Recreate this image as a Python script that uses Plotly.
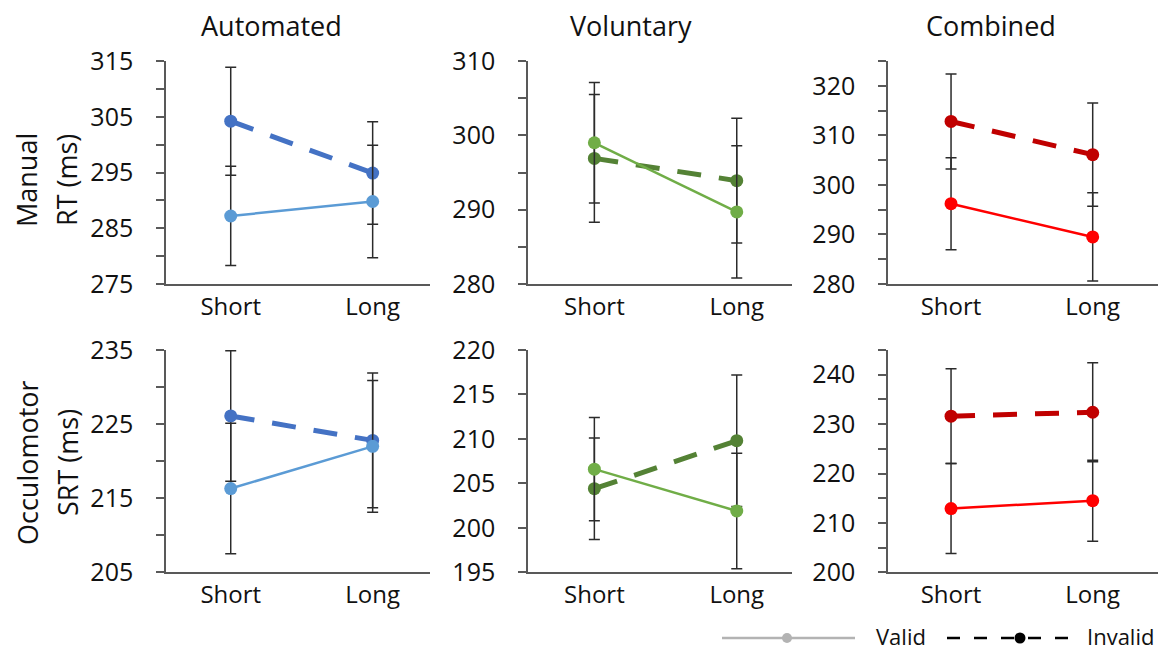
import plotly.graph_objects as go
from plotly.subplots import make_subplots

# ---------------- data ----------------
categories = ["Short", "Long"]
column_titles = ["Automated", "Voluntary", "Combined"]
row_titles = [("Manual", "RT (ms)"), ("Occulomotor", "SRT (ms)")]

# Manual RT (ms)
auto_rt_valid = [287.2, 289.8]
auto_rt_valid_err = [8.9, 10.1]
auto_rt_invalid = [304.2, 294.9]
auto_rt_invalid_err = [9.7, 9.2]

vol_rt_valid = [299.0, 289.7]
vol_rt_valid_err = [8.1, 8.9]
vol_rt_invalid = [296.9, 293.9]
vol_rt_invalid_err = [8.6, 8.4]

comb_rt_valid = [296.2, 289.5]
comb_rt_valid_err = [9.3, 8.9]
comb_rt_invalid = [312.8, 306.1]
comb_rt_invalid_err = [9.6, 10.4]

# Occulomotor SRT (ms)
auto_srt_valid = [216.3, 222.0]
auto_srt_valid_err = [8.8, 8.9]
auto_srt_invalid = [226.1, 222.8]
auto_srt_invalid_err = [8.8, 9.1]

vol_srt_valid = [206.6, 201.9]
vol_srt_valid_err = [5.8, 6.5]
vol_srt_invalid = [204.4, 209.8]
vol_srt_invalid_err = [5.7, 7.4]

comb_srt_valid = [212.9, 214.5]
comb_srt_valid_err = [9.1, 8.2]
comb_srt_invalid = [231.6, 232.4]
comb_srt_invalid_err = [9.6, 10.0]

# axis ranges and tick labels
rt_ranges = [[275, 315], [280, 310], [280, 325]]
rt_tickvals = [[275, 285, 295, 305, 315], [280, 290, 300, 310], [280, 290, 300, 310, 320]]
srt_ranges = [[205, 235], [195, 220], [200, 245]]
srt_tickvals = [[205, 215, 225, 235], [195, 200, 205, 210, 215, 220], [200, 210, 220, 230, 240]]

# ---------------- style ----------------
OFF = 8  # page body margin
W, H = 1166 - 2 * OFF, 660 - 2 * OFF
valid_colors = ["#5B9BD5", "#70AD47", "#FF0000"]
invalid_colors = ["#4472C4", "#548235", "#C00000"]
axis_color = "#595959"
err_color = "#2b2b2b"
FONT = "Open Sans"

def px_x(p):
    return (p - OFF) / W

def px_y(p):
    return 1 - (p - OFF) / H

col_px = [(166, 430), (528, 792), (888, 1158)]
row_px = [(61, 284), (350, 572.3)]
x_ranges = [[-0.456, 1.404], [-0.466, 1.388], [-0.445, 1.461]]

data = [
    [(auto_rt_valid, auto_rt_valid_err, auto_rt_invalid, auto_rt_invalid_err),
     (vol_rt_valid, vol_rt_valid_err, vol_rt_invalid, vol_rt_invalid_err),
     (comb_rt_valid, comb_rt_valid_err, comb_rt_invalid, comb_rt_invalid_err)],
    [(auto_srt_valid, auto_srt_valid_err, auto_srt_invalid, auto_srt_invalid_err),
     (vol_srt_valid, vol_srt_valid_err, vol_srt_invalid, vol_srt_invalid_err),
     (comb_srt_valid, comb_srt_valid_err, comb_srt_invalid, comb_srt_invalid_err)],
]
y_ranges = [rt_ranges, srt_ranges]
y_ticks = [rt_tickvals, srt_tickvals]

fig = make_subplots(rows=2, cols=3)
xpos = list(range(len(categories)))

for r in range(2):
    for c in range(3):
        v, ve, iv, ive = data[r][c]
        eb = lambda arr: dict(type="data", array=arr, visible=True, color=err_color,
                              thickness=1.5, width=5.5)
        fig.add_trace(go.Scatter(
            x=xpos, y=iv, mode="lines+markers", showlegend=False,
            line=dict(color=invalid_colors[c], width=5, dash="24px,18px"),
            marker=dict(color=invalid_colors[c], size=13),
            error_y=eb(ive), name="Invalid"), row=r + 1, col=c + 1)
        fig.add_trace(go.Scatter(
            x=xpos, y=v, mode="lines+markers", showlegend=False,
            line=dict(color=valid_colors[c], width=2.5),
            marker=dict(color=valid_colors[c], size=13),
            error_y=eb(ve), name="Valid"), row=r + 1, col=c + 1)

        idx = r * 3 + c + 1
        xa = "xaxis" if idx == 1 else f"xaxis{idx}"
        ya = "yaxis" if idx == 1 else f"yaxis{idx}"
        fig.layout[xa].update(
            domain=[px_x(col_px[c][0]), px_x(col_px[c][1])],
            range=x_ranges[c], tickvals=xpos, ticktext=categories,
            showline=True, linecolor=axis_color, linewidth=1.5,
            ticks="", showgrid=False, zeroline=False, automargin=False,
            tickfont=dict(family=FONT, size=24, color="#111"),
            ticklabelstandoff=0, fixedrange=True)
        lo, hi = y_ranges[r][c]
        fig.layout[ya].update(
            domain=[px_y(row_px[r][1]), px_y(row_px[r][0])],
            range=[lo, hi], tickvals=y_ticks[r][c], automargin=False,
            showline=True, linecolor=axis_color, linewidth=1.5,
            ticks="outside", ticklen=8, tickwidth=1.5, tickcolor=axis_color,
            minor=dict(tick0=lo, dtick=5, ticks="outside", ticklen=8,
                       tickwidth=1.5, tickcolor=axis_color, showgrid=False),
            showgrid=False, zeroline=False,
            tickfont=dict(family=FONT, size=25, color="#111"),
            ticklabelstandoff=18, fixedrange=True)

annotations = []
title_x = [271, 631, 991]
for c, t in enumerate(column_titles):
    annotations.append(dict(text=t, x=px_x(title_x[c]), y=px_y(25), xref="paper", yref="paper",
                            showarrow=False, xanchor="center", yanchor="middle",
                            font=dict(family=FONT, size=27, color="#111")))
row_center = [180, 463]
for r, (l1, l2) in enumerate(row_titles):
    annotations.append(dict(text=l1, x=px_x(27), y=px_y(row_center[r]), xref="paper", yref="paper",
                            showarrow=False, textangle=-90, xanchor="center", yanchor="middle",
                            font=dict(family=FONT, size=27, color="#111")))
    annotations.append(dict(text=l2, x=px_x(67), y=px_y(row_center[r]), xref="paper", yref="paper",
                            showarrow=False, textangle=-90, xanchor="center", yanchor="middle",
                            font=dict(family=FONT, size=27, color="#111")))

# legend (drawn as decoration)
leg_y = 638
shapes = [
    dict(type="line", xref="paper", yref="paper", x0=px_x(722), x1=px_x(855),
         y0=px_y(leg_y), y1=px_y(leg_y), line=dict(color="#b3b3b3", width=2.5)),
    dict(type="circle", xref="paper", yref="paper", xsizemode="pixel", ysizemode="pixel",
         xanchor=px_x(787), yanchor=px_y(leg_y), x0=-5, x1=5, y0=-5, y1=5,
         fillcolor="#b3b3b3", line=dict(width=0)),
    dict(type="line", xref="paper", yref="paper", x0=px_x(947), x1=px_x(1068),
         y0=px_y(leg_y), y1=px_y(leg_y), line=dict(color="#000", width=2.5, dash="13px,14px")),
    dict(type="circle", xref="paper", yref="paper", xsizemode="pixel", ysizemode="pixel",
         xanchor=px_x(1020), yanchor=px_y(leg_y), x0=-5.5, x1=5.5, y0=-5.5, y1=5.5,
         fillcolor="#000", line=dict(width=0)),
]
annotations.append(dict(text="Valid", x=px_x(874), y=px_y(636), xref="paper", yref="paper",
                        showarrow=False, xanchor="left", yanchor="middle",
                        font=dict(family=FONT, size=22, color="#111")))
annotations.append(dict(text="Invalid", x=px_x(1085), y=px_y(636), xref="paper", yref="paper",
                        showarrow=False, xanchor="left", yanchor="middle",
                        font=dict(family=FONT, size=22, color="#111")))

fig.update_layout(width=W, height=H, margin=dict(l=0, r=0, t=0, b=0, autoexpand=False),
                  paper_bgcolor="white", plot_bgcolor="white",
                  annotations=annotations, shapes=shapes, showlegend=False)

fig.write_html("out.html")
